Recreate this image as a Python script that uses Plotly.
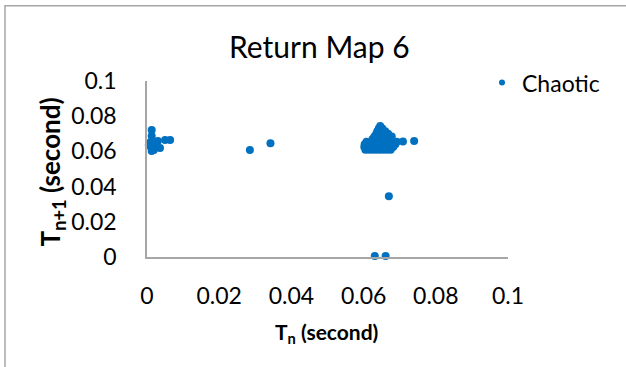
import plotly.graph_objects as go

# Return map: period T_n versus next period T_(n+1), in seconds
tn = [
    # small periods near zero
    0.0013, 0.0013, 0.0010, 0.0011, 0.0013, 0.0005, 0.0030, 0.0022, 0.0036, 0.0050, 0.0064, 0.0019,
    # isolated points
    0.0285, 0.0342,
    # main cluster
    0.0605, 0.0615, 0.0625, 0.0635, 0.0645, 0.0655, 0.0665, 0.0675,
    0.0602, 0.0612, 0.0622, 0.0632, 0.0642, 0.0652, 0.0662, 0.0672, 0.0682,
    0.0603, 0.0613, 0.0625, 0.0635, 0.0645, 0.0655, 0.0665, 0.0675, 0.0688,
    0.0608, 0.0620, 0.0632, 0.0642, 0.0652, 0.0662, 0.0672, 0.0684, 0.0692,
    0.0625, 0.0635, 0.0645, 0.0655, 0.0665, 0.0675,
    0.0630, 0.0640, 0.0650, 0.0660, 0.0670, 0.0678,
    0.0635, 0.0645, 0.0655, 0.0668,
    0.0638, 0.0648, 0.0660,
    0.0642, 0.0652,
    0.0646,
    0.0709, 0.0740,
    # outliers below the cluster
    0.0670, 0.0631, 0.0661,
]
tn1 = [
    0.0722, 0.0688, 0.0653, 0.0625, 0.0602, 0.0636, 0.0659, 0.0642, 0.0619, 0.0665, 0.0665, 0.0608,
    0.0608, 0.0646,
    0.0610, 0.0610, 0.0610, 0.0610, 0.0610, 0.0610, 0.0610, 0.0610,
    0.0625, 0.0625, 0.0625, 0.0625, 0.0625, 0.0625, 0.0625, 0.0625, 0.0625,
    0.0640, 0.0640, 0.0640, 0.0640, 0.0640, 0.0640, 0.0640, 0.0640, 0.0640,
    0.0655, 0.0655, 0.0655, 0.0655, 0.0655, 0.0655, 0.0655, 0.0655, 0.0655,
    0.0670, 0.0670, 0.0670, 0.0670, 0.0670, 0.0670,
    0.0685, 0.0685, 0.0685, 0.0685, 0.0685, 0.0685,
    0.0700, 0.0700, 0.0700, 0.0700,
    0.0715, 0.0715, 0.0715,
    0.0730, 0.0730,
    0.0744,
    0.0656, 0.0659,
    0.0345, 0.0006, 0.0006,
]

tick_vals = [0, 0.02, 0.04, 0.06, 0.08, 0.1]
tick_text = ["0", "0.02", "0.04", "0.06", "0.08", "0.1"]

series_name = "Chaotic"
chart_title = "Return Map 6"
x_title = "<b>T<sub>n</sub> (second)</b>"
y_title = "<b>T<sub>n+1</sub> (second)</b>"

BLUE = "#0070C0"
GREY = "#A6A6A6"
FONT = "Lato"

fig = go.Figure()
fig.add_trace(go.Scatter(
    x=tn, y=tn1, mode="markers", showlegend=False, cliponaxis=False,
    marker=dict(color=BLUE, size=8, line=dict(width=0)),
))
# legend entry with a smaller symbol
fig.add_trace(go.Scatter(
    x=[None], y=[None], mode="markers", name=series_name,
    marker=dict(color=BLUE, size=6),
))

axis_common = dict(
    range=[0, 0.1], tickmode="array", tickvals=tick_vals, ticktext=tick_text,
    showgrid=False, zeroline=False, showline=True, linecolor=GREY, linewidth=1.5,
    ticks="", tickfont=dict(family=FONT, size=23, color="#000000"),
    fixedrange=True,
)

fig.update_layout(
    width=626, height=367,
    margin=dict(l=147, r=118, t=81, b=110),
    paper_bgcolor="white", plot_bgcolor="white",
    xaxis=dict(axis_common, ticklabelstandoff=18),
    yaxis=dict(axis_common, ticklabelstandoff=24),
    legend=dict(
        x=0.928, y=1.113, xanchor="left", yanchor="top",
        font=dict(family=FONT, size=23, color="#000000"),
        bgcolor="rgba(0,0,0,0)",
    ),
    annotations=[
        dict(text=chart_title, x=0.4765, y=1.199, xref="paper", yref="paper",
             xanchor="center", yanchor="middle", showarrow=False,
             font=dict(family=FONT, size=30, color="#000000")),
        dict(text=x_title, x=0.497, y=-0.432, xref="paper", yref="paper",
             xanchor="center", yanchor="middle", showarrow=False,
             font=dict(family=FONT, size=21, color="#000000")),
        dict(text=y_title, x=-0.262, y=0.483, xref="paper", yref="paper",
             xanchor="center", yanchor="middle", showarrow=False, textangle=-90,
             font=dict(family=FONT, size=26, color="#000000")),
    ],
    shapes=[
        dict(type="rect", xref="paper", yref="paper",
             x0=-0.3934, x1=1.366, y0=-0.699, y1=1.428,
             line=dict(color=GREY, width=1.5), fillcolor="rgba(0,0,0,0)", layer="below"),
    ],
)

fig.write_html("out.html")
